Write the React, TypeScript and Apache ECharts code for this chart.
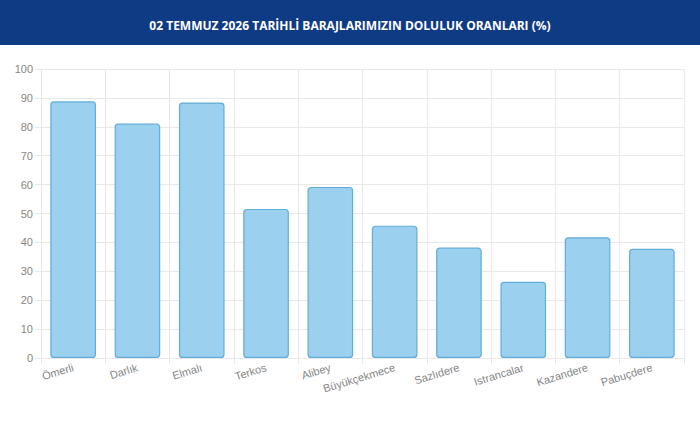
import { useEffect, useRef } from "react";
import * as echarts from "echarts";

// baraj adları ve doluluk oranları (%)
const dams = [
  "Ömerli",
  "Darlık",
  "Elmalı",
  "Terkos",
  "Alibey",
  "Büyükçekmece",
  "Sazlıdere",
  "Istrancalar",
  "Kazandere",
  "Pabuçdere",
];
const fillRates = [88.8, 81.1, 88.4, 51.6, 59.2, 45.8, 38.2, 26.4, 41.8, 37.8];
const title = "02 TEMMUZ 2026 TARİHLİ BARAJLARIMIZIN DOLULUK ORANLARI (%)";
const yMin = 0;
const yMax = 100;
const yStep = 10;

const App: React.FC = () => {
  const chartRef = useRef<HTMLDivElement>(null);

  useEffect(() => {
    document.body.style.margin = "0";
    const myChart = echarts.init(chartRef.current!, undefined, { renderer: "svg" });

    const gridColor = "#e8e8e8";
    const labelColor = "#858585";
    const option: echarts.EChartsOption = {
      animation: false,
      backgroundColor: "#ffffff",
      graphic: [
        {
          type: "rect",
          left: 0,
          top: 0,
          shape: { width: 700, height: 45 },
          style: { fill: "#0f3b84" },
          z: 0,
        },
      ],
      title: {
        text: title,
        left: "center",
        top: 14,
        textStyle: {
          color: "#ffffff",
          fontFamily: "Open Sans",
          fontWeight: "bold",
          fontSize: 12,
        },
      },
      grid: {
        left: 41,
        right: 16,
        top: 69,
        bottom: 70,
      },
      xAxis: {
        type: "category",
        data: dams,
        boundaryGap: true,
        axisLine: { lineStyle: { color: gridColor } },
        axisTick: { show: true, length: 6, lineStyle: { color: gridColor } },
        splitLine: { show: true, lineStyle: { color: gridColor } },
        axisLabel: {
          rotate: 17,
          margin: 9,
          color: labelColor,
          fontFamily: "Liberation Sans",
          fontSize: 11,
        },
      },
      yAxis: {
        type: "value",
        min: yMin,
        max: yMax,
        interval: yStep,
        axisLine: { show: true, lineStyle: { color: gridColor } },
        axisTick: { show: true, length: 6, lineStyle: { color: gridColor } },
        splitLine: { show: true, lineStyle: { color: gridColor } },
        axisLabel: {
          margin: 8,
          color: labelColor,
          fontFamily: "Liberation Sans",
          fontSize: 11,
        },
      },
      series: [
        {
          type: "bar",
          data: fillRates,
          barWidth: "71%",
          itemStyle: {
            color: "#9bd0ee",
            borderColor: "#62acd9",
            borderWidth: 1.2,
            borderRadius: 3,
          },
        },
      ],
    };
    myChart.setOption(option);

    return () => {
      myChart.dispose();
    };
  }, []);

  return (
    <div
      ref={chartRef}
      style={{ position: "absolute", left: 0, top: 0, width: "700px", height: "428px" }}
    />
  );
};
export default App;
